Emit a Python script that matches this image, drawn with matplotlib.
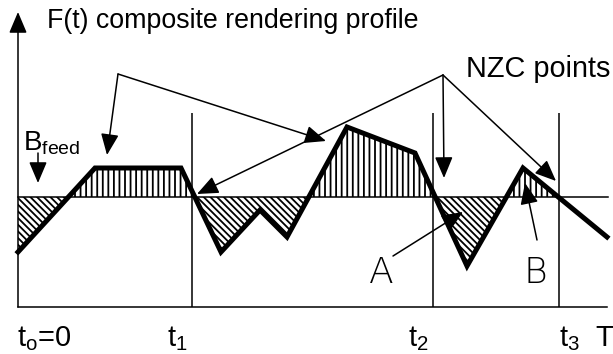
import numpy as np
import matplotlib
matplotlib.use("Agg")
import matplotlib.pyplot as plt
from matplotlib.patches import Rectangle

plt.rcParams['font.family'] = ['Liberation Sans', 'DejaVu Sans']
plt.rcParams['mathtext.fontset'] = 'custom'
plt.rcParams['mathtext.rm'] = 'Liberation Sans'
plt.rcParams['hatch.linewidth'] = 1.3

# profile F(t): time and value (baseline B_feed at 0)
t = [0, 77, 163, 203, 242, 269, 329, 397, 449, 505, 589]
F = [-55, 29, 29, -55, -13, -40, 70, 44, -69, 29, -40]

# interval boundaries
t_marks = [174, 415, 541]
t_labels = ['t$_\\mathregular{1}$', 't$_\\mathregular{2}$', 't$_\\mathregular{3}$']
t_end = 589
F_bottom = -110
F_top_marks = 84

t = np.array(t, dtype=float)
F = np.array(F, dtype=float)

fig = plt.figure(figsize=(6.13, 3.54), dpi=100)
ax = fig.add_axes([0, 0, 1, 1])
ax.set_xlim(-18, 595)
ax.set_ylim(-157, 197)
ax.axis('off')

# hatched areas between profile and baseline, only up to t3
clip = Rectangle((0, -200), t_marks[-1], 400, transform=ax.transData)
pos = ax.fill_between(t, F, 0, where=F >= 0, interpolate=True,
                      facecolor='white', edgecolor='black', lw=0, hatch='|||', zorder=1)
neg = ax.fill_between(t, F, 0, where=F <= 0, interpolate=True,
                      facecolor='white', edgecolor='black', lw=0, hatch='\\' * 5, zorder=1)
pos.set_clip_path(clip)
neg.set_clip_path(clip)

# baseline, bottom line and interval lines
ax.plot([0, t_end + 1], [0, 0], color='black', lw=1.1, zorder=2)
ax.plot([0, t_end], [F_bottom, F_bottom], color='black', lw=1.1, zorder=2)
ax.vlines(t_marks, F_bottom, F_top_marks, color='black', lw=1.1, zorder=2)

# the profile
ax.plot(t, F, color='black', lw=3.6, solid_joinstyle='miter', zorder=3)

arrow = dict(arrowstyle='-|>,head_length=1.3,head_width=0.55', mutation_scale=10,
             color='black', lw=1.1, shrinkA=0, shrinkB=0)

# vertical axis with arrow
ax.annotate('', xy=(0, 185), xytext=(0, F_bottom), arrowprops=arrow, zorder=4)

# B_feed arrow
ax.annotate('', xy=(20, 14), xytext=(20, 44), arrowprops=arrow, zorder=4)

# NZC arrows
for tip in [(89, 42), (308, 56)]:
    ax.annotate('', xy=tip, xytext=(100, 123), arrowprops=arrow, zorder=4)
for tip in [(179, 3), (426, 19), (538, 16)]:
    ax.annotate('', xy=tip, xytext=(425, 122), arrowprops=arrow, zorder=4)

# A and B arrows
ax.annotate('', xy=(445, -15), xytext=(375, -59), arrowprops=arrow, zorder=4)
ax.annotate('', xy=(507, 14), xytext=(519, -43), arrowprops=arrow, zorder=4)

# texts
ax.text(29, 169, 'F(t) composite rendering profile', fontsize=19.3, va='baseline')
ax.text(448, 120, 'NZC points', fontsize=20.8, va='baseline')
ax.text(5, 47, 'B$_\\mathregular{feed}$', fontsize=20, va='baseline')
ax.text(-1, -149, 't$_\\mathregular{o}$=0', fontsize=21, va='baseline')
for x, lab in zip(t_marks, t_labels):
    if x == t_marks[-1]:
        ax.text(x, -149, lab, fontsize=21, va='baseline', ha='left')
    else:
        ax.text(x - 4, -149, lab, fontsize=21, va='baseline', ha='right')
ax.text(577, -149, 'T', fontsize=21, va='baseline')
ax.text(363, -86, 'A', fontsize=26, va='baseline', ha='center',
        family=['Liberation Sans Narrow', 'DejaVu Sans'], fontweight='light')
ax.text(517, -86, 'B', fontsize=26, va='baseline', ha='center',
        family=['Liberation Sans Narrow', 'DejaVu Sans'], fontweight='light')

fig.savefig('out.png', dpi=100)
